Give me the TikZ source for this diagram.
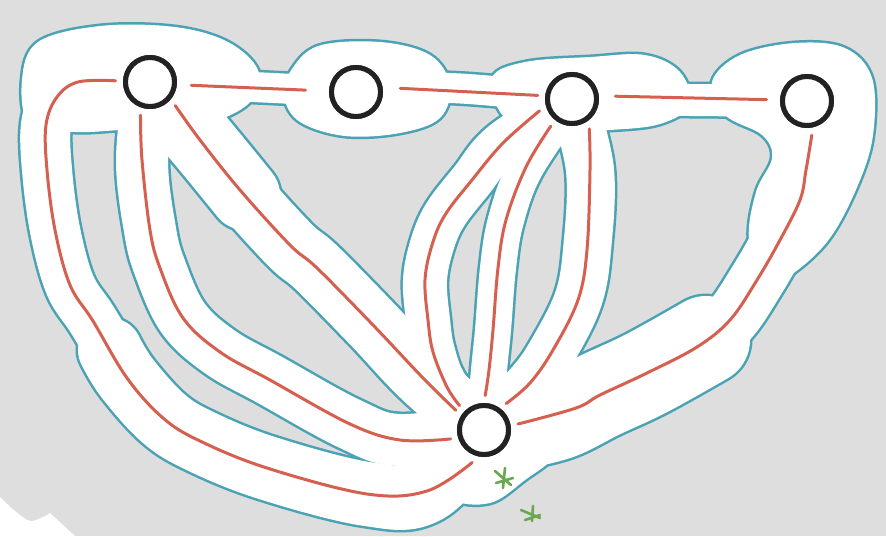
\documentclass[tikz,border=0pt]{standalone}
\definecolor{bgg}{RGB}{222,222,222}
\definecolor{bl}{RGB}{74,162,181}
\definecolor{rd}{RGB}{214,96,80}
\definecolor{ink}{RGB}{34,34,34}
\definecolor{gr}{RGB}{106,168,79}
\pgfdeclarelayer{bg}\pgfdeclarelayer{bluel}\pgfdeclarelayer{whitel}
\pgfsetlayers{bg,bluel,whitel,main}
\newcommand\corr[3][round]{%
 \begin{pgfonlayer}{bluel}\draw[bl, line width=#2pt+5pt, line cap=#1] plot[smooth, tension=0.6] coordinates {#3};\end{pgfonlayer}%
 \begin{pgfonlayer}{whitel}\draw[white, line width=#2pt, line cap=#1] plot[smooth, tension=0.6] coordinates {#3};\end{pgfonlayer}}
\newcommand\blob[1]{%
 \begin{pgfonlayer}{bluel}\filldraw[bl, line width=5pt] plot[smooth cycle, tension=0.6] coordinates {#1};\end{pgfonlayer}%
 \begin{pgfonlayer}{whitel}\fill[white] plot[smooth cycle, tension=0.6] coordinates {#1};\end{pgfonlayer}}
\tikzset{
 hub/.style={circle, draw=ink, line width=5pt, minimum size=49pt, inner sep=0pt, outer sep=10pt, fill=white},
 redl/.style={rd, line width=3pt, line cap=round},
 grn/.style={gr, line width=2.6pt, line cap=round}
}
\begin{document}
\begin{tikzpicture}[x=1pt,y=-1pt]
\useasboundingbox (0,0) rectangle (886,536);
\begin{pgfonlayer}{bg}
\fill[bgg] (0,0) rectangle (886,536);
\fill[white] plot[smooth] coordinates {(0,497) (15,511) (30,521) (43,517) (50,513)} -- (75,536) -- (0,536) -- cycle;
\end{pgfonlayer}
% hubs
\node[hub] (A) at (150,82) {};
\node[hub] (B) at (356,92) {};
\node[hub] (C) at (572,99) {};
\node[hub] (D) at (807,101) {};
\node[hub] (E) at (484,430) {};
% regions
\blob{(22,80) (38,42) (100,26) (175,27) (228,42) (258,70) (252,100) (218,120) (170,127) (120,130) (75,132) (30,125)}
\blob{(290,72) (318,46) (380,42) (430,55) (450,85) (440,118) (400,133) (345,136) (300,122) (284,97)}
\blob{(492,78) (525,62) (590,57) (645,55) (680,72) (690,105) (660,124) (610,130) (550,132) (505,118)}
\blob{(712,82) (740,55) (795,43) (845,48) (872,78) (873,135) (858,185) (830,238) (795,272) (765,286) (749,240) (756,192) (772,158) (762,135) (725,115)}
\blob{(440,420) (470,392) (520,395) (560,420) (555,455) (525,480) (490,503) (450,498) (432,460)}
\corr{30}{(A.center) (B.center)}
\corr{30}{(B.center) (450,88) (C.center)}
\corr{32}{(C.center) (D.center)}
\corr{50}{(A.center) (78,82) (57,97) (46,125) (47,170) (55,230) (70,285) (93,321) (127,378)}
\corr{64}{(110,350) (127,378) (163,418) (200,441) (267,468) (367,494) (427,491) (E.center)}
\corr{52}{(A.center) (142,160) (150,230) (160,268) (183,318) (220,352) (270,380) (350,424) (400,440) (E.center)}
\corr{60}{(A.center) (200,140) (240,190) (290,245) (317,268) (373,325) (423,378) (E.center)}
\corr{70}{(A.center) (200,140) (245,195)}
\corr{44}{(C.center) (503,143) (472,180) (445,215) (432,245) (425,280) (428,320) (433,352) (447,387) (E.center)}
\corr{36}{(C.center) (526,167) (506,220) (498,268) (493,330) (489,370) (E.center)}
\corr{48}{(C.center) (590,170) (587,250) (578,300) (553,350) (530,383) (E.center)}
\corr{56}{(D.center) (806,170) (800,200) (780,240) (757,280) (730,320) (697,347) (647,373) (600,395) (576,408) (E.center)}
\corr{88}{(706,340) (647,373) (600,395) (560,415) (520,425)}
% red connectors
\draw[redl, shorten <=7pt, shorten >=16pt] (A.-5) -- (B.178);
\draw[redl, shorten <=10pt] (B.7) -- (C.174);
\draw[redl, shorten <=9pt, shorten >=6pt] (C.5) -- (D.178);
\draw[redl] plot[smooth, tension=0.6] coordinates {(A.178) (78,82) (57,97) (46,125) (47,170) (55,230) (70,285) (93,321) (127,378) (163,418) (200,441) (267,468) (367,494) (427,491) (E.250)};
\draw[redl] plot[smooth, tension=0.6] coordinates {(A.254) (142,160) (150,230) (160,268) (183,318) (220,352) (270,380) (350,424) (400,440) (E.195)};
\draw[redl] plot[smooth, tension=0.6] coordinates {(A.-43) (200,140) (240,190) (290,245) (317,268) (373,325) (423,378) (E.145)};
\draw[redl] plot[smooth, tension=0.6] coordinates {(C.200) (503,143) (472,180) (445,215) (432,245) (425,280) (428,320) (433,352) (447,387) (E.135)};
\draw[redl] plot[smooth, tension=0.6] coordinates {(C.232) (526,167) (506,220) (498,268) (493,330) (489,370) (E.88)};
\draw[redl] plot[smooth, tension=0.6] coordinates {(C.300) (590,170) (587,250) (578,300) (553,350) (530,383) (E.50)};
\draw[redl] plot[smooth, tension=0.6] coordinates {(D.278) (806,170) (800,200) (780,240) (757,280) (730,320) (697,347) (647,373) (600,395) (576,408) (E.10)};
% redraw hubs on top
\node[hub] at (A.center) {};
\node[hub] at (B.center) {};
\node[hub] at (C.center) {};
\node[hub] at (D.center) {};
\node[hub] at (E.center) {};
% green marks
\draw[grn] (505,468) -- (503,488) (495,471) -- (511,485) (496,483) -- (513,478);
\draw[grn] (533,506) -- (532,521) (521,510) -- (540,518) (525,520) -- (540,515);
\end{tikzpicture}
\end{document}
